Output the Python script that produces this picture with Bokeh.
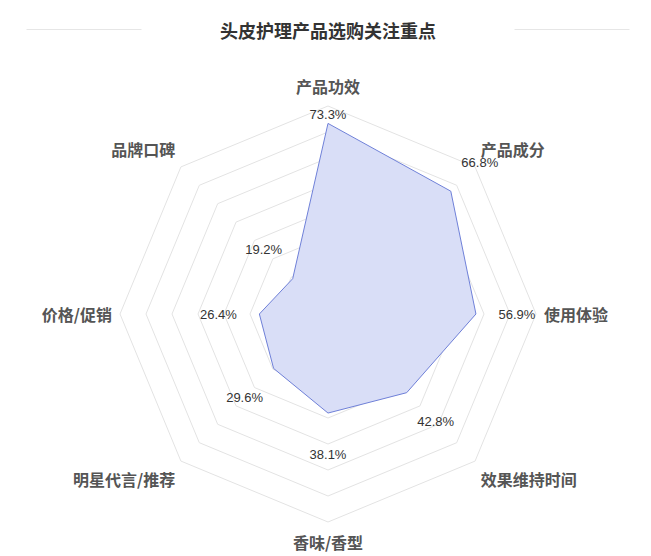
import math
from bokeh.plotting import figure
from bokeh.models import Range1d
from bokeh.core.properties import value
from bokeh.embed import file_html
from bokeh.resources import INLINE

# ---- data ----
title_text = "头皮护理产品选购关注重点"
categories = ["产品功效", "产品成分", "使用体验", "效果维持时间", "香味/香型", "明星代言/推荐", "价格/促销", "品牌口碑"]
values = [73.3, 66.8, 56.9, 42.8, 38.1, 29.6, 26.4, 19.2]
ring_levels = [10, 20, 30, 40, 50, 60, 70, 80]
max_value = 80

# ---- layout / style ----
W, H = 651, 556
K = 2.6                  # px per unit
CX, CY = 327.5, 313.5    # centre in figure pixels (from top-left)
CJK = "Noto Sans CJK SC"
NUM = "Liberation Sans, Noto Sans CJK SC"

p = figure(width=W, height=H, output_backend="svg", toolbar_location=None,
           x_range=Range1d(-CX / K, (W - CX) / K),
           y_range=Range1d(-(H - CY) / K, CY / K),
           min_border=0, background_fill_color="white", border_fill_color="white")
p.axis.visible = False
p.xgrid.visible = False
p.ygrid.visible = False
p.outline_line_color = None

n = len(categories)
angles = [math.pi / 2 - i * 2 * math.pi / n for i in range(n)]

# grid rings
for lv in ring_levels:
    xs = [lv * math.cos(a) for a in angles] + [lv * math.cos(angles[0])]
    ys = [lv * math.sin(a) for a in angles] + [lv * math.sin(angles[0])]
    p.line(xs, ys, line_color="#e3e3e3", line_width=1)

# data polygon
px = [v * math.cos(a) for v, a in zip(values, angles)]
py = [v * math.sin(a) for v, a in zip(values, angles)]
p.patch(px, py, fill_color="#d9def7", fill_alpha=1.0, line_color="#6f80d8", line_width=1)

# category labels
gap = 8 / K
for cat, a in zip(categories, angles):
    r = max_value + gap
    c, s = math.cos(a), math.sin(a)
    align = "left" if c > 0.01 else ("right" if c < -0.01 else "center")
    base = "bottom" if s > 0.01 else ("top" if s < -0.01 else "middle")
    p.text(x=[r * c], y=[r * s], text=[cat], text_font=value(CJK), text_font_style="bold",
           text_font_size="16px", text_color="#555555", text_align=align, text_baseline=base)

# value labels
vgap = 41 / K
for i, (v, a) in enumerate(zip(values, angles)):
    c, s = math.cos(a), math.sin(a)
    if i == 0:
        p.text(x=[v * c], y=[v * s + 1 / K], text=[f"{v:.1f}%"], text_font=value(NUM),
               text_font_size="13px", text_color="#333333", text_align="center", text_baseline="bottom")
    else:
        r = v + vgap
        p.text(x=[r * c], y=[r * s], text=[f"{v:.1f}%"], text_font=value(NUM),
               text_font_size="13px", text_color="#333333", text_align="center", text_baseline="middle")

# title
ty = (CY - 29) / K
p.text(x=[0], y=[ty], text=[title_text], text_font=value(CJK), text_font_style="bold",
       text_font_size="18px", text_color="#333333", text_align="center", text_baseline="middle")
lx0, lx1 = (26 - CX) / K, (141 - CX) / K
p.segment(x0=[lx0, -lx1], y0=[ty, ty], x1=[lx1, -lx0], y1=[ty, ty], line_color="#e6e6e6", line_width=1)

open("out.html", "w").write(file_html(p, INLINE))
